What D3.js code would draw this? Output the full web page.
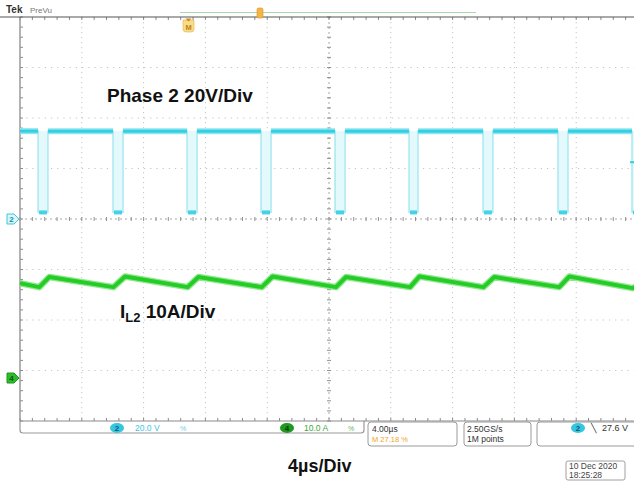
<!DOCTYPE html>
<html><head><meta charset="utf-8">
<script src="https://cdn.jsdelivr.net/npm/d3@7"></script>
<style>
body{margin:0;background:#fff}
svg{display:block}
text{font-family:"Liberation Sans",Arial,Helvetica,sans-serif}
</style>
</head><body>
<svg id="c" width="634" height="481"></svg>
<script>
// ---- data ----
const timeLimits = [-20, 20];          // µs, 4 µs/div, 10 div
const voltLimits = [-80, 80];          // ch2, 20 V/div, 8 div
const ampLimits = [-8.51, 71.49];      // ch4, 10 A/div, 8 div
const ch2FallTimes = [-18.83, -13.98, -9.19, -4.40, 0.39, 5.18, 9.97, 14.82, 19.61];
const ch2RiseTimes = [-18.19, -13.33, -8.54, -3.75, 1.04, 5.76, 10.61, 15.47, 20.40];
const ch2Levels = [34.8, 2.6];         // high, low (V)
const ch4Times   = [-20, -18.75, -18.1, -13.95, -13.2, -9.15, -8.45, -4.35, -3.65, 0.45, 1.1, 5.25, 5.85, 10.0, 10.7, 14.9, 15.55, 19.65, 20];
const ch4Current = [18.8, 18.0, 20.0, 18.0, 20.1, 18.0, 20.0, 18.0, 20.1, 18.0, 20.0, 18.0, 20.1, 18.0, 20.0, 18.0, 20.1, 17.8, 18.3];
const titleV = "Phase 2 20V/Div";
const titleI = ["I", "L2", " 10A/Div"];
const titleT = "4µs/Div";
const statusCh2 = ["2", "20.0 V", "%"];
const statusCh4 = ["4", "10.0 A", "%"];
const statusTime = ["4.00µs", "M 27.18 %"];
const statusRate = ["2.50GS/s", "1M points"];
const statusTrig = ["2", "\u2572", "27.6 V"];
const dateLines = ["10 Dec 2020", "18:25:28"];

// ---- layout ----
const L = 20, R = 638, T = 17, B = 421, W = 634;
const svg = d3.select("#c");
const x = d3.scaleLinear().domain(timeLimits).range([L, R]);
const yV = d3.scaleLinear().domain(voltLimits).range([B, T]);
const yI = d3.scaleLinear().domain(ampLimits).range([B, T]);

svg.append("defs").append("clipPath").attr("id", "clip")
  .append("rect").attr("x", L).attr("y", T).attr("width", W - L).attr("height", B - T);

// grid
const g = svg.append("g");
const majorX = d3.range(timeLimits[0], timeLimits[1] + 0.01, 4);
const majorY = d3.range(voltLimits[0], voltLimits[1] + 0.01, 20);
majorX.forEach(t => {
  if (t === timeLimits[0] || t === 0) return;
  g.append("line").attr("x1", x(t)).attr("x2", x(t)).attr("y1", T).attr("y2", B)
    .attr("stroke", "#c4c4c4").attr("stroke-width", 1).attr("stroke-dasharray", "1.2,3.8");
});
majorY.forEach(v => {
  if (v === voltLimits[0] || v === voltLimits[1] || v === 0) return;
  g.append("line").attr("x1", L).attr("x2", W).attr("y1", yV(v)).attr("y2", yV(v))
    .attr("stroke", "#c4c4c4").attr("stroke-width", 1).attr("stroke-dasharray", "1.2,5");
});
// center lines with minor ticks
g.append("line").attr("x1", L).attr("x2", W).attr("y1", yV(0)).attr("y2", yV(0))
  .attr("stroke", "#a8a8a8").attr("stroke-width", 1).attr("stroke-dasharray", "2,3");
g.append("line").attr("x1", x(0)).attr("x2", x(0)).attr("y1", T).attr("y2", B)
  .attr("stroke", "#a8a8a8").attr("stroke-width", 1).attr("stroke-dasharray", "2,3");
d3.range(timeLimits[0], timeLimits[1] + 0.01, 0.8).forEach(t => {
  g.append("line").attr("x1", x(t)).attr("x2", x(t)).attr("y1", yV(0) - 2).attr("y2", yV(0) + 2)
    .attr("stroke", "#909090");
  g.append("line").attr("x1", x(t)).attr("x2", x(t)).attr("y1", T).attr("y2", T + 3)
    .attr("stroke", "#8a8a8a");
  g.append("line").attr("x1", x(t)).attr("x2", x(t)).attr("y1", B - 3).attr("y2", B)
    .attr("stroke", "#8a8a8a");
});
d3.range(voltLimits[0], voltLimits[1] + 0.01, 4).forEach(v => {
  g.append("line").attr("x1", x(0) - 2).attr("x2", x(0) + 2).attr("y1", yV(v)).attr("y2", yV(v))
    .attr("stroke", "#909090");
  g.append("line").attr("x1", L).attr("x2", L + 3).attr("y1", yV(v)).attr("y2", yV(v))
    .attr("stroke", "#8a8a8a");
});
// frame
g.append("line").attr("x1", L).attr("x2", L).attr("y1", T).attr("y2", B).attr("stroke", "#9a9a9a").attr("stroke-width", 1.5);
g.append("line").attr("x1", 0).attr("x2", W).attr("y1", T).attr("y2", T).attr("stroke", "#555").attr("stroke-width", 1.2);

// ---- ch2 trace ----
const plot = svg.append("g").attr("clip-path", "url(#clip)");
const [hi, lo] = ch2Levels;
const pulses = ch2FallTimes.map((f, i) => ({f, r: ch2RiseTimes[i]}));
plot.selectAll("rect.pf").data(pulses).join("rect")
  .attr("x", d => x(d.f)).attr("width", d => x(d.r) - x(d.f))
  .attr("y", yV(hi)).attr("height", yV(lo) - yV(hi))
  .attr("fill", "#e4f9fc");
const pts = [[timeLimits[0], hi]];
pulses.forEach(d => { pts.push([d.f, hi], [d.f, lo], [d.r, lo], [d.r, hi]); });
pts.push([timeLimits[1] + 1, hi]);
plot.append("path").attr("d", d3.line().x(d => x(d[0])).y(d => yV(d[1]))(pts))
  .attr("fill", "none").attr("stroke", "#9fe6f0").attr("stroke-width", 1.3);
const highs = [[timeLimits[0], ch2FallTimes[0]]];
for (let i = 0; i < ch2RiseTimes.length - 1; i++) highs.push([ch2RiseTimes[i], ch2FallTimes[i + 1]]);
highs.push([ch2RiseTimes[ch2RiseTimes.length - 1], timeLimits[1] + 1]);
plot.selectAll("line.hi").data(highs).join("line")
  .attr("x1", d => x(d[0])).attr("x2", d => x(d[1]))
  .attr("y1", yV(hi)).attr("y2", yV(hi))
  .attr("stroke", "#8fe6f0").attr("stroke-width", 6);
plot.selectAll("line.hi2").data(highs).join("line")
  .attr("x1", d => x(d[0])).attr("x2", d => x(d[1]))
  .attr("y1", yV(hi)).attr("y2", yV(hi))
  .attr("stroke", "#35cfe2").attr("stroke-width", 3);
plot.selectAll("line.lo").data(pulses).join("line")
  .attr("x1", d => x(d.f) + 1).attr("x2", d => x(d.r) - 1)
  .attr("y1", yV(lo)).attr("y2", yV(lo))
  .attr("stroke", "#45d2e4").attr("stroke-width", 4);
plot.append("line").attr("x1", W - 4).attr("x2", W).attr("y1", yV(22.5)).attr("y2", yV(22.5))
  .attr("stroke", "#35cfe2").attr("stroke-width", 2);

// ---- ch4 trace ----
const ipts = ch4Times.map((t, i) => [t, ch4Current[i]]);
const iline = d3.line().x(d => x(d[0])).y(d => yI(d[1]));
plot.append("path").attr("d", iline(ipts)).attr("fill", "none")
  .attr("stroke", "#8ee88e").attr("stroke-width", 6.5).attr("stroke-linejoin", "round");
plot.append("path").attr("d", iline(ipts)).attr("fill", "none")
  .attr("stroke", "#26cc26").attr("stroke-width", 4).attr("stroke-linejoin", "round");

// ---- channel ground markers ----
function marker(yc, fill, stroke, label, txt) {
  const m = svg.append("g");
  m.append("path").attr("d", `M7,${yc - 5}H14L19,${yc}L14,${yc + 5}H7Z`)
    .attr("fill", fill).attr("stroke", stroke).attr("stroke-width", 1);
  m.append("text").attr("x", 11.5).attr("y", yc + 3).attr("text-anchor", "middle")
    .attr("font-size", 8).attr("font-weight", "bold").attr("fill", txt).text(label);
}
marker(yV(0), "#d8f6fa", "#3cc8dc", "2", "#1a8fa5");
marker(yI(0), "#2cbc2c", "#1d9a1d", "4", "#0d5a0d");

// ---- top bar ----
svg.append("text").attr("x", 6).attr("y", 13).attr("font-size", 10).attr("font-weight", "bold").attr("fill", "#333").text("Tek");
svg.append("text").attr("x", 30).attr("y", 13).attr("font-size", 8).attr("fill", "#777").text("PreVu");
svg.append("line").attr("x1", 180).attr("x2", 476).attr("y1", 12.5).attr("y2", 12.5).attr("stroke", "#a6dca6").attr("stroke-width", 1.2);
svg.append("rect").attr("x", 257).attr("y", 8).attr("width", 6).attr("height", 10).attr("rx", 1.5).attr("fill", "#f4b446").attr("stroke", "#e09020").attr("stroke-width", 0.6);
svg.append("path").attr("d", "M183,20H194V29Q194,32 191,32H186Q183,32 183,29Z").attr("fill", "#f9dc8a").attr("stroke", "#eab040").attr("stroke-width", 0.6);
svg.append("path").attr("d", "M185.5,18.5H191.5L188.5,21.5Z").attr("fill", "#c98a1a");
svg.append("text").attr("x", 188.5).attr("y", 29.5).attr("text-anchor", "middle").attr("font-size", 7.5).attr("font-weight", "bold").attr("fill", "#c08018").text("M");

// ---- annotations ----
svg.append("text").attr("x", 107).attr("y", 102).attr("font-size", 19).attr("font-weight", "bold").attr("fill", "#111").text(titleV);
const ti = svg.append("text").attr("x", 120).attr("y", 318).attr("font-size", 19).attr("font-weight", "bold").attr("fill", "#111");
ti.append("tspan").text(titleI[0]);
ti.append("tspan").attr("font-size", 13).attr("dy", 4).text(titleI[1]);
ti.append("tspan").attr("dy", -4).text(titleI[2]);
svg.append("text").attr("x", 288).attr("y", 472).attr("font-size", 18).attr("font-weight", "bold").attr("fill", "#111").text(titleT);

// ---- status bar ----
const sb = svg.append("g");
sb.append("path").attr("d", `M${L},${B}V${B + 9}Q${L},${B + 12} ${L + 3},${B + 12}H361Q364,${B + 12} 364,${B + 9}V${B}`)
  .attr("fill", "none").attr("stroke", "#9a9a9a").attr("stroke-width", 1.2);
sb.append("line").attr("x1", L).attr("x2", W).attr("y1", B).attr("y2", B).attr("stroke", "#8a8a8a").attr("stroke-width", 1.2);
function badge(cx, cy, fill, txt, label) {
  sb.append("ellipse").attr("cx", cx).attr("cy", cy).attr("rx", 7).attr("ry", 5).attr("fill", fill);
  sb.append("text").attr("x", cx).attr("y", cy + 3).attr("text-anchor", "middle").attr("font-size", 8).attr("font-weight", "bold").attr("fill", txt).text(label);
}
badge(117, 428, "#36c6e0", "#0c5870", statusCh2[0]);
sb.append("text").attr("x", 135).attr("y", 431).attr("font-size", 8.5).attr("fill", "#44c4de").text(statusCh2[1]);
sb.append("text").attr("x", 180).attr("y", 431).attr("font-size", 7).attr("fill", "#6ad0e4").text(statusCh2[2]);
badge(287, 428, "#1f9a1f", "#063806", statusCh4[0]);
sb.append("text").attr("x", 304).attr("y", 431).attr("font-size", 8.5).attr("fill", "#3aa83a").text(statusCh4[1]);
sb.append("text").attr("x", 348).attr("y", 431).attr("font-size", 7).attr("fill", "#60b860").text(statusCh4[2]);
function box(x0, x1) {
  sb.append("rect").attr("x", x0).attr("y", 422).attr("width", x1 - x0).attr("height", 24).attr("rx", 3)
    .attr("fill", "#fff").attr("stroke", "#9a9a9a").attr("stroke-width", 1);
}
box(368, 457);
sb.append("text").attr("x", 372).attr("y", 432).attr("font-size", 8.5).attr("fill", "#333").text(statusTime[0]);
sb.append("text").attr("x", 372).attr("y", 442).attr("font-size", 7.5).attr("fill", "#f0a428").text(statusTime[1]);
box(464, 531);
sb.append("text").attr("x", 467).attr("y", 432).attr("font-size", 8.5).attr("fill", "#333").text(statusRate[0]);
sb.append("text").attr("x", 467).attr("y", 442).attr("font-size", 8.5).attr("fill", "#333").text(statusRate[1]);
box(537, 645);
badge(578, 428, "#36c6e0", "#0c5870", statusTrig[0]);
sb.append("text").attr("x", 591).attr("y", 431).attr("font-size", 8.5).attr("fill", "#333").text(statusTrig[1]);
sb.append("text").attr("x", 602).attr("y", 431).attr("font-size", 9).attr("fill", "#333").text(statusTrig[2]);

// date box
sb.append("rect").attr("x", 566).attr("y", 461).attr("width", 59).attr("height", 19).attr("rx", 2)
  .attr("fill", "#fff").attr("stroke", "#a0a0a0").attr("stroke-width", 1);
sb.append("text").attr("x", 569).attr("y", 469).attr("font-size", 8.5).attr("fill", "#444").text(dateLines[0]);
sb.append("text").attr("x", 569).attr("y", 477.5).attr("font-size", 8.5).attr("fill", "#444").text(dateLines[1]);
</script>
</body></html>
